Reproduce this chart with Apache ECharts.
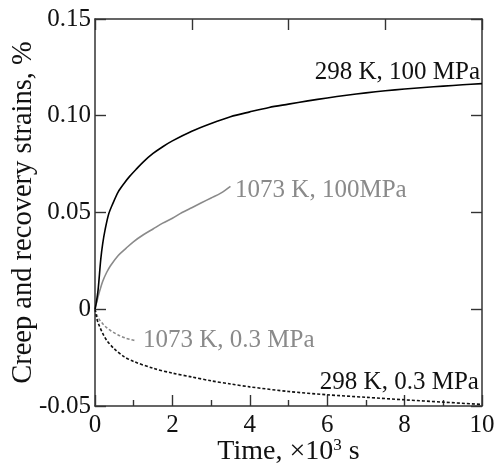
<!DOCTYPE html>
<html>
<head>
<meta charset="utf-8">
<script src="https://cdn.jsdelivr.net/npm/echarts@6/dist/echarts.min.js"></script>
<style>html,body{margin:0;padding:0;background:#fff;}#c{width:498px;height:468px;}</style>
</head>
<body>
<div id="c"></div>
<script>
// Time, x10^3 s
const t1 = [0, 0.03, 0.08, 0.15, 0.2, 0.26, 0.35, 0.46, 0.6, 0.75, 0.9, 1.08, 1.25, 1.5, 1.75, 2.0, 2.5, 3.0, 3.5, 4.0, 4.5, 5.0, 5.5, 6.0, 6.5, 7.0, 7.5, 8.0, 8.5, 9.0, 9.5, 10.0];
const v1 = [0, 0.003, 0.010, 0.026, 0.034, 0.041, 0.049, 0.0546, 0.0607, 0.065, 0.0688, 0.0727, 0.0762, 0.0805, 0.084, 0.087, 0.092, 0.096, 0.0995, 0.102, 0.1043, 0.106, 0.1077, 0.1092, 0.1106, 0.1118, 0.1129, 0.1138, 0.1146, 0.1153, 0.116, 0.1166];
const t2 = [0, 0.02, 0.05, 0.1, 0.2, 0.3, 0.4, 0.6, 0.8, 1.0, 1.25, 1.5, 1.75, 2.0, 2.25, 2.5, 2.75, 3.0, 3.25, 3.5];
const v2 = [0, 0.002, 0.004, 0.008, 0.0145, 0.019, 0.0225, 0.0278, 0.0315, 0.035, 0.0385, 0.0415, 0.0445, 0.047, 0.050, 0.0525, 0.055, 0.0575, 0.060, 0.0635];
const t3 = [0, 0.05, 0.1, 0.2, 0.3, 0.4, 0.5, 0.6, 0.7, 0.8, 0.9, 1.0, 1.05];
const v3 = [0, -0.003, -0.005, -0.0075, -0.0095, -0.011, -0.0122, -0.0133, -0.0142, -0.015, -0.0155, -0.016, -0.0162];
const t4 = [0, 0.05, 0.1, 0.2, 0.3, 0.5, 0.75, 1.0, 1.5, 2.0, 2.5, 3.0, 3.5, 4.0, 5.0, 6.0, 7.0, 8.0, 9.0, 10.0];
const v4 = [0, -0.005, -0.008, -0.0125, -0.016, -0.0205, -0.0245, -0.027, -0.0305, -0.033, -0.035, -0.037, -0.0386, -0.0401, -0.0425, -0.0442, -0.0455, -0.0468, -0.048, -0.0492];
const seriesNames = ['298 K, 100 MPa', '1073 K, 100MPa', '1073 K, 0.3 MPa', '298 K, 0.3 MPa'];
const labelAnchors = [[9.95, 0.1225], [3.62, 0.0615], [1.24, -0.016], [9.92, -0.038]];
const xTicks = [0, 2, 4, 6, 8, 10];
const yTicks = ['-0.05', '0', '0.05', '0.10', '0.15'];

const FONT = "'Liberation Serif', 'Times New Roman', serif";
const AX = '#333';
const GRAY = '#8a8a8a';
const zip = (a, b) => a.map((x, i) => [x, b[i]]);

function lbl(i, color, pos) {
  return {
    symbol: 'circle', symbolSize: 0, silent: true,
    data: [{ coord: labelAnchors[i] }],
    label: { show: true, position: pos, distance: 0, formatter: seriesNames[i],
      color: color, fontFamily: FONT, fontSize: 25 }
  };
}
const line = () => ({ show: true, onZero: false, lineStyle: { color: AX, width: 1.5 } });
const tick = () => ({ show: true, inside: true, length: 11, lineStyle: { color: AX, width: 1.4 } });

const chart = echarts.init(document.getElementById('c'), null, { renderer: 'canvas' });
chart.setOption({
  animation: false,
  backgroundColor: '#fff',
  grid: { left: 95, right: 16, top: 19, bottom: 62, containLabel: false, outerBoundsMode: 'none' },
  xAxis: [
    {
      type: 'value', min: 0, max: 10, interval: 2, position: 'bottom',
      name: '{a|Time, ×10}{s|3}{a| s}', nameLocation: 'middle', nameGap: 31, nameMoveOverlap: false,
      nameTextStyle: { rich: {
        a: { fontFamily: FONT, fontSize: 28, color: '#111', lineHeight: 30 },
        s: { fontFamily: FONT, fontSize: 17, color: '#111', verticalAlign: 'top', lineHeight: 30 }
      } },
      axisLine: line(), axisTick: tick(),
      minorTick: { show: true, splitNumber: 2, length: 6, lineStyle: { color: AX, width: 1.4 } },
      axisLabel: { margin: 7, color: '#111', fontFamily: FONT, fontSize: 25,
        formatter: v => String(xTicks.find(x => Math.abs(x - v) < 1e-6) ?? v) },
      splitLine: { show: false }
    },
    {
      type: 'value', min: 0, max: 10, interval: 2.5, position: 'top',
      axisLine: line(), axisTick: tick(),
      axisLabel: { show: false }, splitLine: { show: false }
    }
  ],
  yAxis: [
    {
      type: 'value', min: -0.05, max: 0.15, interval: 0.05, position: 'left',
      name: 'Creep and recovery strains, %', nameLocation: 'middle', nameGap: 57, nameMoveOverlap: false,
      nameTextStyle: { fontFamily: FONT, fontSize: 28.5, color: '#111' },
      axisLine: line(), axisTick: tick(),
      axisLabel: { margin: 4, color: '#111', fontFamily: FONT, fontSize: 25,
        formatter: v => yTicks[Math.round((v + 0.05) / 0.05)] },
      splitLine: { show: false }
    },
    {
      type: 'value', min: -0.05, max: 0.15, interval: 0.05, position: 'right',
      axisLine: line(), axisTick: tick(),
      axisLabel: { show: false }, splitLine: { show: false }
    }
  ],
  series: [
    { type: 'line', data: zip(t1, v1), smooth: 0.3, showSymbol: false, z: 4,
      lineStyle: { color: '#000', width: 1.6 }, markPoint: lbl(0, '#111', 'left') },
    { type: 'line', data: zip(t2, v2), smooth: 0.3, showSymbol: false, z: 3,
      lineStyle: { color: GRAY, width: 1.6 }, markPoint: lbl(1, GRAY, 'right') },
    { type: 'line', data: zip(t3, v3), smooth: 0.3, showSymbol: false, z: 3,
      lineStyle: { color: GRAY, width: 1.6, type: [3, 2] }, markPoint: lbl(2, GRAY, 'right') },
    { type: 'line', data: zip(t4, v4), smooth: 0.3, showSymbol: false, z: 4,
      lineStyle: { color: '#111', width: 1.6, type: [3, 2] }, markPoint: lbl(3, '#111', 'left') }
  ]
});
</script>
</body>
</html>
